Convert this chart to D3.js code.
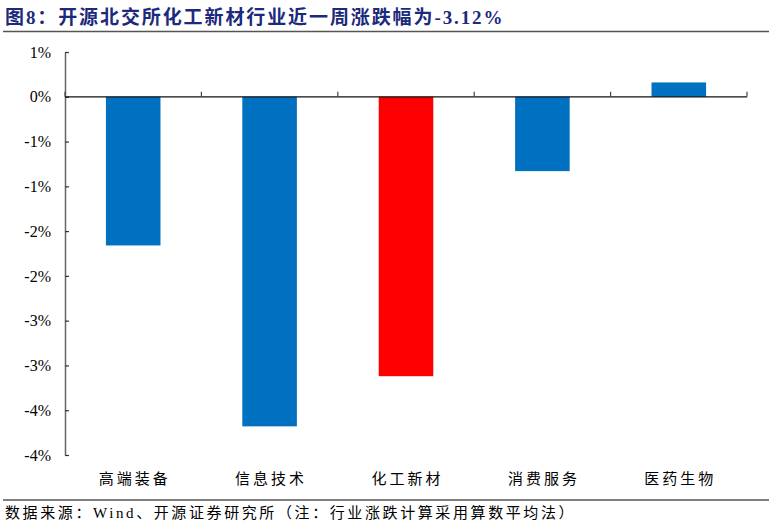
<!DOCTYPE html>
<html lang="zh">
<head>
    <meta charset="UTF-8">
    <title>开源北交所化工新材行业近一周涨跌幅</title>
    <script src="https://cdn.jsdelivr.net/npm/d3@7/dist/d3.min.js"></script>
    <style>
        body{
            margin: 0;
            background: white;
        }
        .title{
            font-family: "Liberation Serif", "Noto Sans CJK SC", serif;
            font-size: 19px;
            font-weight: bold;
            letter-spacing: 1.9px;
            fill: #1c2a7c;
        }
        .yAxis text{
            font-family: "Liberation Serif", serif;
            font-size: 16px;
            fill: #000;
        }
        .xLabel{
            font-family: "Noto Sans CJK SC", sans-serif;
            font-size: 15px;
            letter-spacing: 3px;
            fill: #000;
        }
        .source{
            font-family: "Liberation Serif", "Noto Sans CJK SC", serif;
            font-size: 15px;
            letter-spacing: 2.6px;
            fill: #000;
        }
    </style>
</head>
<body>
<svg id="main" width="774" height="530"></svg>
<script>
    const width = 774, height = 530;
    const margin = {top: 52, bottom: 75, left: 65, right: 27};

    // data
    const categories = ['高端装备', '信息技术', '化工新材', '消费服务', '医药生物'];
    const changes = [-1.66, -3.68, -3.12, -0.83, 0.16];
    const highlight = '化工新材';
    const yTicks = [0.5, 0, -0.5, -1, -1.5, -2, -2.5, -3, -3.5, -4];

    const svg = d3.select('svg#main');

    const xScale = d3.scaleBand()
        .domain(categories)
        .range([margin.left, width - margin.right])
        .paddingInner(0.6)
        .paddingOuter(0.3);

    const yScale = d3.scaleLinear()
        .domain([-4, 0.5])
        .range([height - margin.bottom, margin.top]);

    // title + rules
    svg.append('text')
        .attr('class', 'title')
        .attr('x', 5).attr('y', 24)
        .text('图8：开源北交所化工新材行业近一周涨跌幅为-3.12%');
    svg.append('line')
        .attr('x1', 3).attr('x2', 769)
        .attr('y1', 31.5).attr('y2', 31.5)
        .attr('stroke', '#555').attr('stroke-width', 1.5);

    // bars
    svg.append('g').selectAll('rect')
        .data(categories)
        .join('rect')
        .attr('x', d => xScale(d))
        .attr('width', xScale.bandwidth())
        .attr('y', (d, i) => yScale(Math.max(0, changes[i])))
        .attr('height', (d, i) => Math.abs(yScale(changes[i]) - yScale(0)))
        .attr('fill', d => d === highlight ? '#ff0000' : '#0070c0');

    // y axis, ticks pointing inward, excel style rounding of labels
    const fmt = v => {
        const r = Math.sign(v) * Math.round(Math.abs(v));
        return (r === 0 ? 0 : r) + '%';
    };
    const yAxisGroup = svg.append('g')
        .attr('class', 'yAxis')
        .attr('transform', `translate(${margin.left},0)`)
        .call(d3.axisRight(yScale).tickValues(yTicks).tickFormat(fmt).tickSize(4).tickSizeOuter(0));
    yAxisGroup.select('.domain').attr('stroke', '#666').attr('stroke-width', 1.5);
    yAxisGroup.selectAll('.tick line').attr('stroke', '#333').attr('stroke-width', 1.2);
    yAxisGroup.selectAll('.tick text')
        .attr('x', -14)
        .attr('text-anchor', 'end');

    // zero line with category separators pointing up
    const bounds = categories.map(d => xScale(d) - xScale.step() * xScale.paddingInner() / 2)
        .concat([width - margin.right]);
    bounds[0] = margin.left;
    svg.append('line')
        .attr('x1', margin.left).attr('x2', width - margin.right)
        .attr('y1', yScale(0)).attr('y2', yScale(0))
        .attr('stroke', '#111').attr('stroke-width', 1.2);
    svg.append('g').selectAll('line')
        .data(bounds)
        .join('line')
        .attr('x1', d => d).attr('x2', d => d)
        .attr('y1', yScale(0)).attr('y2', yScale(0) - 5)
        .attr('stroke', '#444').attr('stroke-width', 1.2);

    // category labels below the plot
    svg.append('g').selectAll('text')
        .data(categories)
        .join('text')
        .attr('class', 'xLabel')
        .attr('x', d => xScale(d) + xScale.bandwidth() / 2 + 1.5)
        .attr('y', 484)
        .attr('text-anchor', 'middle')
        .text(d => d);

    // source
    svg.append('line')
        .attr('x1', 3).attr('x2', 769)
        .attr('y1', 500).attr('y2', 500)
        .attr('stroke', '#555').attr('stroke-width', 1.5);
    svg.append('text')
        .attr('class', 'source')
        .attr('x', 5).attr('y', 518)
        .text('数据来源：Wind、开源证券研究所（注：行业涨跌计算采用算数平均法）');
</script>
</body>
</html>
